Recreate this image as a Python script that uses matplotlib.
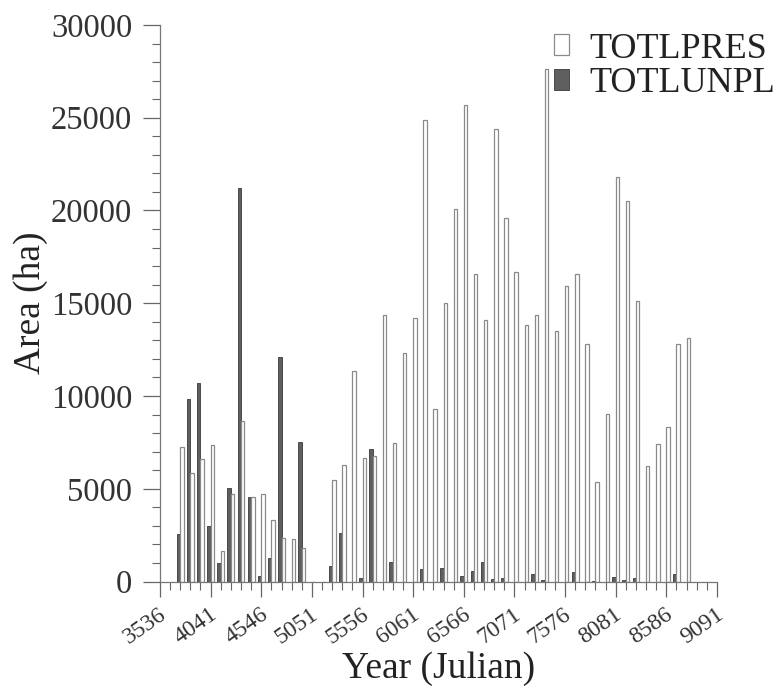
import matplotlib
matplotlib.use('Agg')
import matplotlib.pyplot as plt
from matplotlib.ticker import MultipleLocator, FixedLocator
from matplotlib.transforms import ScaledTranslation

# ─── data ────────────────────────────────────────────────────────────────────
years = [3738, 3839, 3940, 4041, 4142, 4243, 4344, 4445, 4546, 4647,
         4748, 4849, 4950, 5051, 5152, 5253, 5354, 5455, 5556, 5657,
         5758, 5859, 5960, 6061, 6162, 6263, 6364, 6465, 6566, 6667,
         6768, 6869, 6970, 7071, 7172, 7273, 7374, 7475, 7576, 7677,
         7778, 7879, 7980, 8081, 8182, 8283, 8384, 8485, 8586, 8687,
         8788]

totlpres = [7240, 5860, 6580, 7340, 1670, 4720, 8650, 4560, 4700, 3290,
            2370, 2300, 1800, 0, 0, 5460, 6290, 11360, 6670, 6740,
            14340, 7480, 12300, 14230, 24890, 9290, 15040, 20080, 25710, 16590,
            14070, 24390, 19610, 16690, 13830, 14370, 27640, 13530, 15940, 16590,
            12800, 5370, 9050, 21830, 20510, 15100, 6250, 7430, 8350, 12800,
            13100]

totlunpl = [2560, 9860, 10680, 2970, 990, 5050, 21200, 4560, 300, 1260,
            12100, 0, 7540, 0, 0, 840, 2590, 0, 170, 7120,
            0, 1040, 0, 0, 660, 0, 730, 0, 280, 570,
            1060, 140, 170, 0, 0, 390, 100, 0, 0, 500,
            0, 50, 0, 230, 100, 170, 0, 0, 0, 390,
            0]

major_years = [3536, 4041, 4546, 5051, 5556, 6061, 6566, 7071, 7576, 8081, 8586, 9091]
# ──────────────────────────────────────────────────────────────────────────────

plt.rcParams['font.family'] = ['Liberation Serif', 'DejaVu Serif']

fig = plt.figure(figsize=(7.8, 6.98), dpi=100)
ax = fig.add_axes([0.2051, 0.1669, 0.7141, 0.7973])

bw = 34
ax.bar([y - bw / 2 for y in years], totlunpl, width=bw, color='#5f5f5f',
       edgecolor='#3a3a3a', linewidth=0.6, label='TOTLUNPL')
ax.bar([y + bw / 2 for y in years], totlpres, width=bw, color='white',
       edgecolor='#8a8a8a', linewidth=0.9, label='TOTLPRES')

ax.set_xlim(major_years[0], major_years[-1])
ax.set_ylim(0, 30000)

ax.xaxis.set_major_locator(FixedLocator(major_years))
ax.xaxis.set_minor_locator(MultipleLocator(101, offset=major_years[0] % 101))
ax.yaxis.set_major_locator(MultipleLocator(5000))
ax.yaxis.set_minor_locator(MultipleLocator(1000))

ax.set_xticklabels([str(y) for y in major_years], rotation=35, ha='center',
                   va='center', rotation_mode='anchor', fontsize=17, color='#333333')
ax.tick_params(axis='y', labelsize=23.5, colors='#333333', pad=8)
ax.tick_params(axis='y', which='major', length=12, width=0.9, color='#666666')
ax.tick_params(axis='y', which='minor', length=6, width=0.8, color='#666666')
ax.tick_params(axis='x', which='major', length=11, width=0.9, color='#666666', pad=21)
ax.tick_params(axis='x', which='minor', length=5.5, width=0.8, color='#666666')

# rotated year labels sit a little left of their tick
shift = ScaledTranslation(-0.15, 0, fig.dpi_scale_trans)
for lab in ax.get_xticklabels():
    lab.set_transform(lab.get_transform() + shift)

for side in ('top', 'right'):
    ax.spines[side].set_visible(False)
for side in ('left', 'bottom'):
    ax.spines[side].set_color('#777777')
    ax.spines[side].set_linewidth(0.9)

ax.set_xlabel('Year (Julian)', fontsize=27, color='#222222', labelpad=2)
ax.set_ylabel('Area (ha)', fontsize=27, color='#222222', labelpad=2)

handles, labels = ax.get_legend_handles_labels()
fig.legend(handles[::-1], labels[::-1], loc='upper right',
           bbox_to_anchor=(1.035, 1.0), frameon=False, fontsize=26,
           handlelength=0.42, handleheight=0.5, handletextpad=0.55,
           labelspacing=0.05, labelcolor='#222222')

plt.savefig('out.png', dpi=100)
plt.close()
